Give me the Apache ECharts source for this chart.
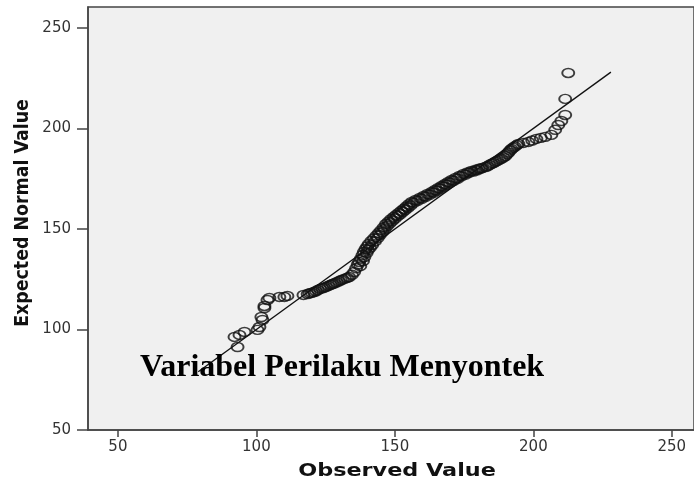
<!DOCTYPE html>
<html>
<head>
<meta charset="utf-8">
<script src="https://cdn.jsdelivr.net/npm/echarts@6/dist/echarts.min.js"></script>
<style>
  html, body { margin: 0; padding: 0; background: #fff; }
  #chart { width: 694px; height: 480px; }
</style>
</head>
<body>
<div id="chart"></div>
<script>
// Normal Q-Q plot
const observed = [
  93.2, 92.1, 93.9, 95.7, 100.4, 101.1, 102.2, 101.8, 102.9, 102.9, 104.0, 104.7, 108.3, 110.1, 111.2,
  117, 118.5, 120, 121.5, 123, 124.5, 126, 127.5, 129, 130.5, 132, 133.5, 134.5, 135.3,
  119.2, 120.8, 122.2, 123.8, 125.2, 126.8, 128.2, 129.8, 131.2, 132.8,
  136, 136.6, 137.1, 137.7, 138.3, 138.8, 139.4, 140, 140.6, 141.5, 142.4, 143.3, 144.2,
  137.5, 138.5, 139, 139.8, 140.3, 141, 141.8, 142.8, 143.8, 144.6,
  145, 145.9, 146.8, 147.7, 148.6, 149.6, 150.5, 151.4, 152.3, 153.2, 154.2, 155.1, 156.1,
  145.5, 146.3, 147.2, 148.2, 149.1, 150, 151, 151.9, 152.8, 153.7, 154.7, 155.6, 156.8,
  157.5, 159, 160.4, 161.8, 163.3, 164.5, 165.7, 166.9, 168.1, 169.3, 170.5, 171.9, 173.3,
  158.2, 159.7, 161.1, 162.5, 163.9, 165.1, 166.3, 167.5, 168.7, 169.9, 171.2, 172.6,
  174.8, 176.2, 177.6, 179.1, 180.3, 181.5, 182.7, 184.1, 185.6, 187, 188.5, 189.9, 191,
  174, 175.5, 176.9, 178.4, 179.7, 181, 183.4, 184.9, 186.3, 187.8, 189.2, 190.5, 191.6,
  192.1, 193.3, 194.6, 196.4, 198.2, 199.6, 201.1, 202.7, 204.3, 206.5, 207.9, 209, 210.1,
  192.7, 194,
  211.5, 211.5, 212.6
];
const expected = [
  91.3, 96.3, 97.3, 98.8, 99.8, 101.2, 104.7, 106.2, 110.7, 111.7, 114.7, 115.7, 116.2, 116.2, 116.7,
  117.2, 117.6, 118.3, 119, 120.2, 120.8, 121.7, 122.6, 123.5, 124.5, 125.3, 126.1, 127.2, 128.6,
  118, 118.6, 119.6, 120.5, 121.2, 122.2, 123, 124, 124.9, 125.7,
  130.5, 132.3, 133.6, 135.2, 137, 138.6, 140, 141.3, 142.5, 144, 145.3, 146.7, 148,
  131.5, 134, 136, 138, 139.5, 140.6, 142, 143.8, 145.5, 147,
  149.3, 150.8, 152.5, 153.6, 154.8, 156, 157, 158, 159, 160, 161.2, 162.3, 163.4,
  148.5, 150, 151.5, 152.8, 154, 155.2, 156.4, 157.3, 158.4, 159.4, 160.5, 161.6, 163,
  164.4, 165.4, 166.4, 167.4, 168.4, 169.4, 170.4, 171.4, 172.4, 173.4, 174.4, 175.4, 176.4,
  164, 165, 166, 167, 168, 169, 170, 171, 172, 173, 174, 175,
  177.4, 178.1, 178.8, 179.4, 179.9, 180.3, 180.8, 181.8, 182.8, 183.9, 185, 186.3, 188,
  176.2, 177, 178, 178.6, 179.2, 180, 181.2, 182.4, 183.4, 184.5, 185.6, 187.2, 189,
  189.8, 191, 192.3, 192.8, 193.3, 194, 194.8, 195.3, 195.8, 196.8, 199.3, 201.7, 203.7,
  190.4, 191.7,
  206.7, 214.7, 227.6
];
const refLine = [79, 228];
const xTicks = [50, 100, 150, 200, 250];
const yTicks = [50, 100, 150, 200, 250];

const chart = echarts.init(document.getElementById('chart'));

const points = observed.map((v, i) => [v, expected[i]]);

const axisColor = '#444';

const option = {
  backgroundColor: '#fff',
  animation: false,
  title: {
    text: 'Variabel Perilaku Menyontek',
    left: 135,
    top: 347,
    textStyle: {
      fontFamily: 'Liberation Serif',
      fontWeight: 'bold',
      fontSize: 32,
      color: '#000'
    }
  },
  grid: {
    left: 88,
    top: 7,
    width: 607.2,
    height: 423,
    show: true,
    backgroundColor: '#f0f0f0',
    borderColor: axisColor,
    borderWidth: 1.5
  },
  xAxis: {
    type: 'value',
    min: 39.2,
    max: 258,
    splitLine: { show: false },
    axisLine: { show: true, lineStyle: { color: axisColor, width: 1.5 } },
    axisTick: {
      show: true,
      length: 7,
      customValues: xTicks,
      lineStyle: { color: axisColor, width: 1.5 }
    },
    axisLabel: {
      customValues: xTicks,
      margin: 10,
      fontFamily: 'DejaVu Sans',
      fontSize: 15,
      color: '#333'
    }
  },
  yAxis: {
    type: 'value',
    min: 50,
    max: 260.4,
    splitLine: { show: false },
    axisLine: { show: true, lineStyle: { color: axisColor, width: 1.5 } },
    axisTick: {
      show: true,
      length: 11,
      customValues: yTicks,
      lineStyle: { color: axisColor, width: 1.5 }
    },
    axisLabel: {
      customValues: yTicks,
      margin: 17,
      fontFamily: 'DejaVu Sans',
      fontSize: 15,
      color: '#333'
    }
  },
  graphic: [
    {
      type: 'text',
      x: 397,
      y: 471,
      scaleX: 1.24,
      style: {
        text: 'Observed Value',
        fontFamily: 'DejaVu Sans',
        fontWeight: 'bold',
        fontSize: 18,
        fill: '#111',
        align: 'center',
        verticalAlign: 'middle'
      }
    },
    {
      type: 'text',
      x: 23,
      y: 213,
      rotation: Math.PI / 2,
      scaleX: 0.87,
      style: {
        text: 'Expected Normal Value',
        fontFamily: 'DejaVu Sans',
        fontWeight: 'bold',
        fontSize: 20,
        fill: '#111',
        align: 'center',
        verticalAlign: 'middle'
      }
    }
  ],
  series: [
    {
      type: 'line',
      data: [[refLine[0], refLine[0]], [refLine[1], refLine[1]]],
      symbol: 'none',
      lineStyle: { color: '#111', width: 1.3 },
      z: 2
    },
    {
      type: 'scatter',
      data: points,
      symbol: 'circle',
      symbolSize: [12, 9],
      itemStyle: {
        color: 'rgba(0,0,0,0)',
        borderColor: '#111',
        borderWidth: 1.7
      },
      z: 3
    }
  ]
};

chart.setOption(option);
</script>
</body>
</html>
